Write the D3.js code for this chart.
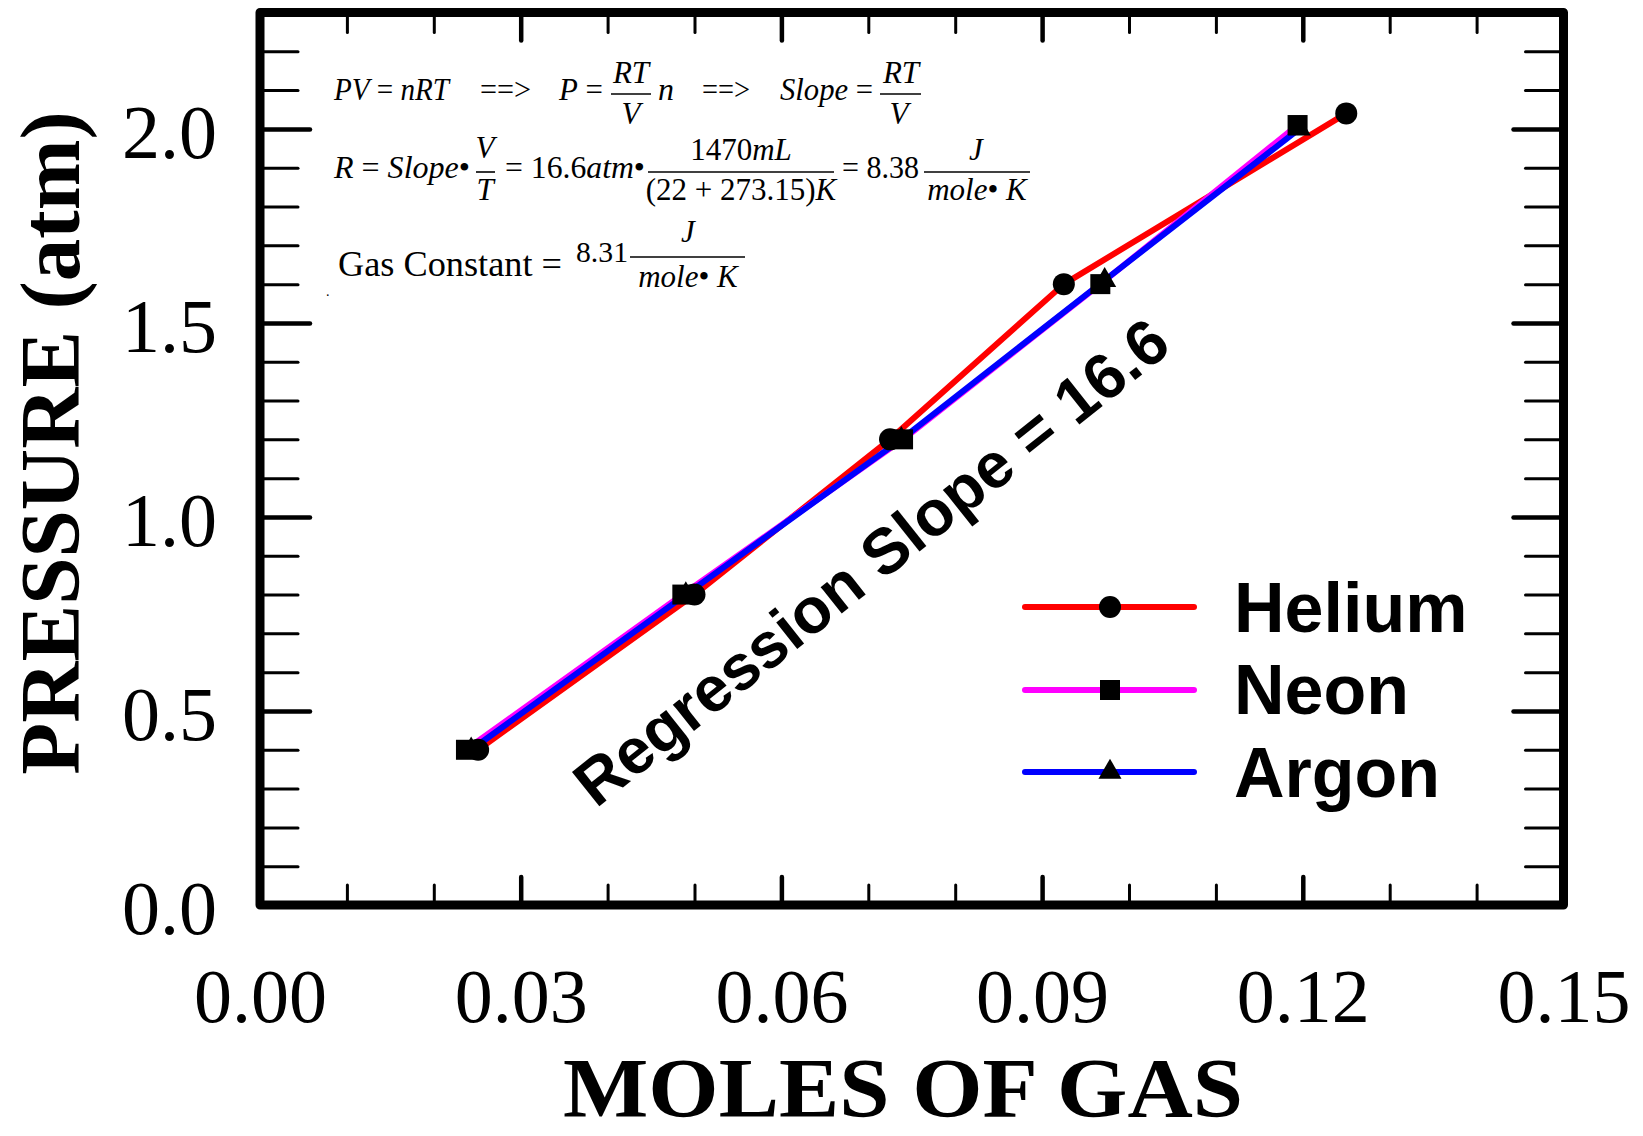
<!DOCTYPE html>
<html><head><meta charset="utf-8">
<script src="https://cdn.jsdelivr.net/npm/d3@7/dist/d3.min.js"></script>
<style>body{margin:0;background:#fff} svg{display:block}</style>
</head><body>
<svg id="c" width="1643" height="1136"></svg>
<script>
// ---------- data ----------
const seriesNames = ["Helium", "Neon", "Argon"];
const seriesColors = ["#ff0000", "#ff00ff", "#0000ff"];
const seriesMarkers = ["circle", "square", "triangle"];
const heliumMoles = [0.0251, 0.0500, 0.0725, 0.0925, 0.1250];
const heliumPressure = [0.40, 0.80, 1.20, 1.60, 2.04];
const neonMoles = [0.0237, 0.0486, 0.0740, 0.0967, 0.1194];
const neonPressure = [0.40, 0.80, 1.20, 1.60, 2.01];
const argonMoles = [0.0243, 0.0490, 0.0738, 0.0972, 0.1196];
const argonPressure = [0.40, 0.80, 1.20, 1.61, 2.00];
const xTickValues = [0, 0.03, 0.06, 0.09, 0.12, 0.15];
const yTickValues = [0, 0.5, 1.0, 1.5, 2.0];
const xDomain = [0, 0.15];
const yDomain = [0, 2.3];
const xTitle = "MOLES OF GAS";
const yTitle = "PRESSURE (atm)";
const slopeLabel = "Regression Slope = 16.6";

const series = [
  {name: seriesNames[0], color: seriesColors[0], marker: seriesMarkers[0], pts: heliumMoles.map((m, i) => [m, heliumPressure[i]])},
  {name: seriesNames[1], color: seriesColors[1], marker: seriesMarkers[1], pts: neonMoles.map((m, i) => [m, neonPressure[i]])},
  {name: seriesNames[2], color: seriesColors[2], marker: seriesMarkers[2], pts: argonMoles.map((m, i) => [m, argonPressure[i]])}
];

// ---------- layout ----------
const L = 260, R = 1563.5, T = 12.5, B = 905;
const svg = d3.select("#c");
const x = d3.scaleLinear().domain(xDomain).range([L, R]);
const y = d3.scaleLinear().domain(yDomain).range([B, T]);
const serif = "'Liberation Serif', 'Times New Roman', serif";
const sans = "'Liberation Sans', Arial, sans-serif";

const xMinor = d3.range(0, 0.1501, 0.01).filter(v => !xTickValues.some(t => Math.abs(t - v) < 1e-6));
const yMinor = d3.range(0, 2.301, 0.1).filter(v => !yTickValues.some(t => Math.abs(t - v) < 1e-6) && v < 2.29);

function styleAxis(g, w) {
  g.select(".domain").remove();
  g.selectAll(".tick line").attr("stroke", "#000").attr("stroke-width", w).attr("stroke-linecap", "round");
}

// minor ticks
svg.append("g").attr("transform", `translate(0,${B})`)
  .call(d3.axisBottom(x).tickValues(xMinor).tickSize(-20).tickFormat(""))
  .call(g => styleAxis(g, 3));
svg.append("g").attr("transform", `translate(0,${T})`)
  .call(d3.axisTop(x).tickValues(xMinor).tickSize(-20).tickFormat(""))
  .call(g => styleAxis(g, 3));
svg.append("g").attr("transform", `translate(${L},0)`)
  .call(d3.axisLeft(y).tickValues(yMinor).tickSize(-38).tickFormat(""))
  .call(g => styleAxis(g, 3));
svg.append("g").attr("transform", `translate(${R},0)`)
  .call(d3.axisRight(y).tickValues(yMinor).tickSize(-38).tickFormat(""))
  .call(g => styleAxis(g, 3));

// major ticks + labels
svg.append("g").attr("transform", `translate(0,${B})`)
  .call(d3.axisBottom(x).tickValues(xTickValues).tickSize(-28).tickPadding(63).tickFormat(d3.format(".2f")))
  .call(g => styleAxis(g, 4.5))
  .call(g => g.selectAll("text").attr("font-family", serif).attr("font-size", 76).attr("fill", "#000"));
svg.append("g").attr("transform", `translate(0,${T})`)
  .call(d3.axisTop(x).tickValues(xTickValues).tickSize(-28).tickFormat(""))
  .call(g => styleAxis(g, 4.5));
svg.append("g").attr("transform", `translate(${L},0)`)
  .call(d3.axisLeft(y).tickValues(yTickValues).tickSize(-50).tickPadding(43).tickFormat(d3.format(".1f")))
  .call(g => styleAxis(g, 4.5))
  .call(g => g.selectAll("text").attr("font-family", serif).attr("font-size", 76).attr("dy", "0.37em").attr("fill", "#000"));
svg.append("g").attr("transform", `translate(${R},0)`)
  .call(d3.axisRight(y).tickValues(yTickValues).tickSize(-50).tickFormat(""))
  .call(g => styleAxis(g, 4.5));

// frame
svg.append("rect").attr("x", L).attr("y", T).attr("width", R - L).attr("height", B - T)
  .attr("fill", "none").attr("stroke", "#000").attr("stroke-width", 9).attr("stroke-linejoin", "round");

// axis titles
svg.append("text").attr("x", 903).attr("y", 1117).attr("text-anchor", "middle")
  .attr("textLength", 680).attr("lengthAdjust", "spacingAndGlyphs")
  .attr("font-family", serif).attr("font-weight", "bold").attr("font-size", 84).text(xTitle);
svg.append("text").attr("transform", "translate(79,443) rotate(-90)").attr("text-anchor", "middle")
  .attr("font-family", serif).attr("font-weight", "bold").attr("font-size", 85).text(yTitle);

// ---------- lines ----------
const line = d3.line().x(d => x(d[0])).y(d => y(d[1]));
series.forEach(s => {
  svg.append("path").datum(s.pts).attr("d", line).attr("fill", "none")
    .attr("stroke", s.color).attr("stroke-width", 6).attr("stroke-linejoin", "round").attr("stroke-linecap", "round");
});

const symGen = {
  circle: d3.symbol(d3.symbolCircle, Math.PI * 11 * 11),
  square: d3.symbol(d3.symbolSquare, 20 * 20),
  triangle: d3.symbol(d3.symbolTriangle, 230)
};
series.forEach(s => {
  svg.append("g").selectAll("path").data(s.pts).join("path")
    .attr("d", symGen[s.marker]())
    .attr("transform", d => `translate(${x(d[0])},${y(d[1])})`)
    .attr("fill", "#000");
});

// ---------- legend ----------
const legendY = [607, 690, 772];
const legendTextY = [632, 714, 797];
series.forEach((s, i) => {
  svg.append("line").attr("x1", 1025).attr("x2", 1194).attr("y1", legendY[i]).attr("y2", legendY[i])
    .attr("stroke", s.color).attr("stroke-width", 6).attr("stroke-linecap", "round");
  svg.append("path").attr("d", symGen[s.marker]()).attr("transform", `translate(1110,${legendY[i]})`).attr("fill", "#000");
  svg.append("text").attr("x", 1234).attr("y", legendTextY[i]).attr("font-family", sans).attr("font-weight", "bold")
    .attr("font-size", 70).attr("fill", "#000").text(s.name);
});

// regression label
svg.append("text").attr("transform", "translate(596,809) rotate(-38.5)")
  .attr("font-family", sans).attr("font-weight", "bold").attr("font-size", 64).attr("fill", "#000").text(slopeLabel);

// ---------- equations ----------
const eq = svg.append("g").attr("font-family", serif).attr("fill", "#000");
function seg(x0, x1, yb, parts, size) {
  const t = eq.append("text").attr("x", x0).attr("y", yb).attr("font-size", size || 31).attr("xml:space", "preserve");
  if (x1) t.attr("textLength", x1 - x0).attr("lengthAdjust", "spacingAndGlyphs");
  parts.forEach(p => t.append("tspan").attr("font-style", p[1] ? "italic" : "normal").text(p[0]));
  return t;
}
function centered(cx, yb, parts, size) {
  const t = eq.append("text").attr("x", cx).attr("y", yb).attr("font-size", size || 31).attr("text-anchor", "middle");
  parts.forEach(p => t.append("tspan").attr("font-style", p[1] ? "italic" : "normal").text(p[0]));
}
function bar(x0, x1, yy) {
  eq.append("line").attr("x1", x0).attr("x2", x1).attr("y1", yy).attr("y2", yy).attr("stroke", "#000").attr("stroke-width", 1.6);
}
// line 1
seg(334, 449, 100, [["PV", 1], [" = ", 0], ["nRT", 1]]);
seg(480, 531, 100, [["==>", 0]]);
seg(559, 603, 100, [["P", 1], [" =", 0]]);
bar(611, 651, 94); centered(631, 83, [["RT", 1]]); centered(631, 124, [["V", 1]]);
seg(658, 674, 100, [["n", 1]]);
seg(702, 750, 100, [["==>", 0]]);
seg(780, 873, 100, [["Slope", 1], [" =", 0]]);
bar(880, 921, 94); centered(901, 83, [["RT", 1]]); centered(899, 124, [["V", 1]]);
// line 2
seg(334, 470, 178, [["R", 1], [" = ", 0], ["Slope", 1], ["\u2022", 0]]);
bar(476, 495, 172); centered(485, 158, [["V", 1]]); centered(485, 200, [["T", 1]]);
seg(505, 645, 178, [["= 16.6", 0], ["atm", 1], ["\u2022", 0]]);
bar(648, 834, 172); centered(741, 160, [["1470", 0], ["mL", 1]]); centered(741, 200, [["(22 + 273.15)", 0], ["K", 1]]);
seg(842, 919, 178, [["= 8.38", 0]]);
bar(924, 1030, 172); centered(976, 160, [["J", 1]]); centered(977, 200, [["mole", 1], ["\u2022", 0], [" K", 1]]);
// line 3
seg(338, 562, 276, [["Gas Constant =", 0]], 35);
seg(576, 628, 262, [["8.31", 0]], 30);
bar(630, 745, 257); centered(688, 242, [["J", 1]]); centered(688, 287, [["mole", 1], ["\u2022", 0], [" K", 1]]);
seg(326, null, 296, [[".", 0]], 14);
</script>
</body></html>
